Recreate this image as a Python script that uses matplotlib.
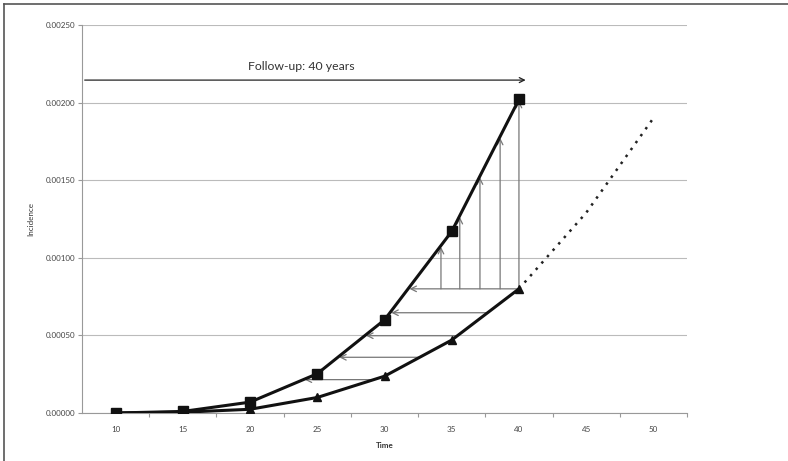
import numpy as np
import matplotlib.pyplot as plt
from matplotlib.lines import Line2D

# data
time = [10, 15, 20, 25, 30, 35, 40]
upper = [0.0, 0.00001, 0.00007, 0.000253, 0.0006, 0.00117, 0.00202]   # squares
lower = [0.0, 0.000005, 0.000024, 0.0001, 0.000237, 0.00047, 0.0008]  # triangles
proj_time = [40, 45, 50]
proj_vals = [0.0008, 0.00129, 0.0019]                                  # dotted projection
tick_labels = [10, 15, 20, 25, 30, 35, 40, 45, 50]

# arrows between the curves
h_arrow_levels = [0.000215, 0.000359, 0.000498, 0.000646, 0.0008]
v_arrow_x = [34.2, 35.6, 37.1, 38.6, 40.0]
followup_y = 0.002145
followup_x = (7.7, 40.5)

plt.rcParams['font.family'] = ['Lato', 'DejaVu Sans']

fig = plt.figure(figsize=(7.88, 4.61), dpi=100)
ax = fig.add_axes([82 / 788, 1 - 413 / 461, (687 - 82) / 788, (413 - 25) / 461])

ax.set_xlim(7.5, 52.5)
ax.set_ylim(0, 0.0025)

ax.plot(time, upper, color='#111111', lw=2.2, marker='s', ms=6.5, zorder=5)
ax.plot(time, lower, color='#111111', lw=2.2, marker='^', ms=5.5, zorder=5)
ax.plot(proj_time, proj_vals, color='#222222', lw=1.8, ls=(0, (1, 2.4)), zorder=4)

arrow_style = dict(arrowstyle='->', color='#777777', lw=0.9, mutation_scale=10,
                   shrinkA=0, shrinkB=1)

# horizontal arrows: from lower curve back to upper curve at same incidence
for yv in h_arrow_levels:
    x_start = np.interp(yv, lower, time)
    x_end = np.interp(yv, upper, time)
    ax.annotate('', xy=(x_end, yv), xytext=(x_start, yv), arrowprops=arrow_style, zorder=3)

# vertical arrows: from the level at 40 years up to the upper curve
base = lower[-1]
for xv in v_arrow_x:
    top = np.interp(xv, time, upper)
    ax.annotate('', xy=(xv, top), xytext=(xv, base), arrowprops=arrow_style, zorder=3)

# follow-up arrow and text
ax.annotate('', xy=(followup_x[1], followup_y), xytext=(followup_x[0], followup_y),
            arrowprops=dict(arrowstyle='->', color='#222222', lw=0.9, mutation_scale=9,
                            shrinkA=0, shrinkB=0))
ax.text(23.8, 0.002235, 'Follow-up: 40 years', ha='center', va='center',
        fontsize=8.8, color='#333333')

# axes styling
ax.set_yticks(np.arange(0, 0.00251, 0.0005))
ax.set_yticklabels(['%.5f' % v for v in np.arange(0, 0.00251, 0.0005)])
ax.grid(axis='y', color='#bbbbbb', lw=0.8)
ax.set_axisbelow(True)

ax.set_xticks(np.arange(12.5, 52.6, 5))
ax.set_xticklabels([])
ax.set_xticks(tick_labels, minor=True)
ax.set_xticklabels([str(t) for t in tick_labels], minor=True)
ax.tick_params(axis='x', which='major', length=3, color='#999999')
ax.tick_params(axis='x', which='minor', length=0, pad=9, labelsize=5.8, labelcolor='#444444')
ax.tick_params(axis='y', length=3, color='#999999', labelsize=5.8, labelcolor='#444444', pad=2)

for side in ['top', 'right']:
    ax.spines[side].set_visible(False)
ax.spines['left'].set_color('#999999')
ax.spines['bottom'].set_color('#999999')

ax.set_xlabel('Time', fontsize=5.8, fontweight='bold', color='#333333', labelpad=7)
ax.set_ylabel('Incidence', fontsize=5.8, color='#333333', labelpad=8)

# frame edges on the left and top
fig.add_artist(Line2D([4 / 788, 4 / 788], [0, 1 - 4 / 461], color='#555555', lw=1.2))
fig.add_artist(Line2D([4 / 788, 1], [1 - 4 / 461, 1 - 4 / 461], color='#555555', lw=1.2))

fig.savefig('out.png', dpi=100)
